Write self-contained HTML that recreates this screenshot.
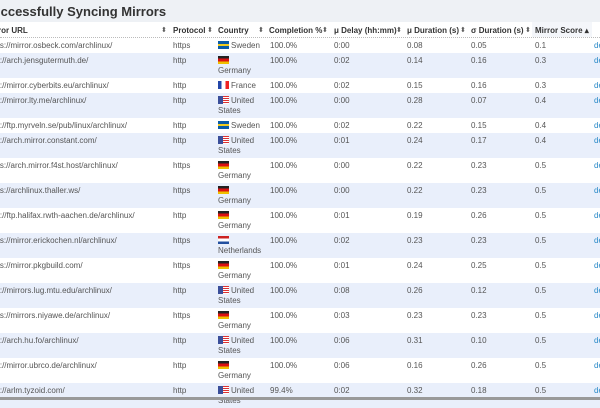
<!DOCTYPE html>
<html><head><meta charset="utf-8"><style>
body{margin:0;width:600px;height:400px;overflow:hidden;background:#fff;font-family:"Liberation Sans",sans-serif;position:relative;color:#555}
.top{position:absolute;left:0;top:0;width:600px;height:22px;background:#eef1f5}
.title{position:absolute;left:-16px;top:4px;font-size:13px;font-weight:bold;color:#333;white-space:nowrap}
.hdr{position:absolute;left:0;top:22px;width:600px;height:16px;background:#fff;border-bottom:1px dotted #bbb;box-sizing:border-box}
.hdr span{position:absolute;top:4px;font-size:8px;font-weight:bold;color:#333;white-space:nowrap}
.hdr i{position:absolute;top:4px;font-size:7px;font-style:normal;color:#555}
.r{position:absolute;left:0;width:600px;font-size:8px}
.r.b{background:#e9effb}
.r span{position:absolute;top:3px;white-space:nowrap;line-height:10px}
.u{left:-13.5px}.p{left:173px}.c{left:218px}.m{left:270px}.d{left:334px}.du{left:407px}.sd{left:471px}.s{left:535px}.l{left:594px;color:#2a8ac8}
.f{display:inline-block;width:11px;height:8px;vertical-align:-1px;margin-right:2px}
.se{background:linear-gradient(#0a5ca8 0 35%,#f0cc20 35% 65%,#0a5ca8 65%)}
.de{background:linear-gradient(#222 0 33%,#d11 33% 66%,#f0c000 66%)}
.fr{background:linear-gradient(90deg,#2346a8 0 33%,#fff 33% 66%,#e22 66%)}
.us{background:linear-gradient(90deg,#3a4e9a 0 45%,transparent 45%),repeating-linear-gradient(#d33 0 1px,#fff 1px 2px)}
.nl{background:linear-gradient(#c22 0 33%,#fff 33% 66%,#2350a0 66%)}
</style></head><body>
<div class="top"></div><div class="title">Successfully Syncing Mirrors</div>
<div class="hdr">
<span style="left:-14px">Mirror URL</span><i style="left:161px">⬍</i>
<span style="left:173px">Protocol</span><i style="left:207px">⬍</i>
<span style="left:218px">Country</span><i style="left:258px">⬍</i>
<span style="left:269px">Completion %</span><i style="left:322px">⬍</i>
<span style="left:334px">μ Delay (hh:mm)</span><i style="left:396px">⬍</i>
<span style="left:407px">μ Duration (s)</span><i style="left:460px">⬍</i>
<span style="left:471px">σ Duration (s)</span><i style="left:525px">⬍</i>
<div style="position:absolute;left:532px;top:0;width:60px;height:15px;background:#f4f6fa"></div>
<span style="left:535px">Mirror Score ▴</span>
</div>

<div class="r" style="top:38px;height:15px"><span class="u">https://mirror.osbeck.com/archlinux/</span><span class="p">https</span><span class="c"><i class="f se"></i>Sweden</span><span class="m">100.0%</span><span class="d">0:00</span><span class="du">0.08</span><span class="sd">0.05</span><span class="s">0.1</span><span class="l">details</span></div>
<div class="r b" style="top:53px;height:25px"><span class="u">http://arch.jensgutermuth.de/</span><span class="p">http</span><span class="c"><i class="f de"></i><br>Germany</span><span class="m">100.0%</span><span class="d">0:02</span><span class="du">0.14</span><span class="sd">0.16</span><span class="s">0.3</span><span class="l">details</span></div>
<div class="r" style="top:78px;height:15px"><span class="u">http://mirror.cyberbits.eu/archlinux/</span><span class="p">http</span><span class="c"><i class="f fr"></i>France</span><span class="m">100.0%</span><span class="d">0:02</span><span class="du">0.15</span><span class="sd">0.16</span><span class="s">0.3</span><span class="l">details</span></div>
<div class="r b" style="top:93px;height:25px"><span class="u">http://mirror.lty.me/archlinux/</span><span class="p">http</span><span class="c"><i class="f us"></i>United<br>States</span><span class="m">100.0%</span><span class="d">0:00</span><span class="du">0.28</span><span class="sd">0.07</span><span class="s">0.4</span><span class="l">details</span></div>
<div class="r" style="top:118px;height:15px"><span class="u">http://ftp.myrveln.se/pub/linux/archlinux/</span><span class="p">http</span><span class="c"><i class="f se"></i>Sweden</span><span class="m">100.0%</span><span class="d">0:02</span><span class="du">0.22</span><span class="sd">0.15</span><span class="s">0.4</span><span class="l">details</span></div>
<div class="r b" style="top:133px;height:25px"><span class="u">http://arch.mirror.constant.com/</span><span class="p">http</span><span class="c"><i class="f us"></i>United<br>States</span><span class="m">100.0%</span><span class="d">0:01</span><span class="du">0.24</span><span class="sd">0.17</span><span class="s">0.4</span><span class="l">details</span></div>
<div class="r" style="top:158px;height:25px"><span class="u">https://arch.mirror.f4st.host/archlinux/</span><span class="p">https</span><span class="c"><i class="f de"></i><br>Germany</span><span class="m">100.0%</span><span class="d">0:00</span><span class="du">0.22</span><span class="sd">0.23</span><span class="s">0.5</span><span class="l">details</span></div>
<div class="r b" style="top:183px;height:25px"><span class="u">https://archlinux.thaller.ws/</span><span class="p">https</span><span class="c"><i class="f de"></i><br>Germany</span><span class="m">100.0%</span><span class="d">0:00</span><span class="du">0.22</span><span class="sd">0.23</span><span class="s">0.5</span><span class="l">details</span></div>
<div class="r" style="top:208px;height:25px"><span class="u">http://ftp.halifax.rwth-aachen.de/archlinux/</span><span class="p">http</span><span class="c"><i class="f de"></i><br>Germany</span><span class="m">100.0%</span><span class="d">0:01</span><span class="du">0.19</span><span class="sd">0.26</span><span class="s">0.5</span><span class="l">details</span></div>
<div class="r b" style="top:233px;height:25px"><span class="u">https://mirror.erickochen.nl/archlinux/</span><span class="p">https</span><span class="c"><i class="f nl"></i><br>Netherlands</span><span class="m">100.0%</span><span class="d">0:02</span><span class="du">0.23</span><span class="sd">0.23</span><span class="s">0.5</span><span class="l">details</span></div>
<div class="r" style="top:258px;height:25px"><span class="u">https://mirror.pkgbuild.com/</span><span class="p">https</span><span class="c"><i class="f de"></i><br>Germany</span><span class="m">100.0%</span><span class="d">0:01</span><span class="du">0.24</span><span class="sd">0.25</span><span class="s">0.5</span><span class="l">details</span></div>
<div class="r b" style="top:283px;height:25px"><span class="u">http://mirrors.lug.mtu.edu/archlinux/</span><span class="p">http</span><span class="c"><i class="f us"></i>United<br>States</span><span class="m">100.0%</span><span class="d">0:08</span><span class="du">0.26</span><span class="sd">0.12</span><span class="s">0.5</span><span class="l">details</span></div>
<div class="r" style="top:308px;height:25px"><span class="u">https://mirrors.niyawe.de/archlinux/</span><span class="p">https</span><span class="c"><i class="f de"></i><br>Germany</span><span class="m">100.0%</span><span class="d">0:03</span><span class="du">0.23</span><span class="sd">0.23</span><span class="s">0.5</span><span class="l">details</span></div>
<div class="r b" style="top:333px;height:25px"><span class="u">http://arch.hu.fo/archlinux/</span><span class="p">http</span><span class="c"><i class="f us"></i>United<br>States</span><span class="m">100.0%</span><span class="d">0:06</span><span class="du">0.31</span><span class="sd">0.10</span><span class="s">0.5</span><span class="l">details</span></div>
<div class="r" style="top:358px;height:25px"><span class="u">http://mirror.ubrco.de/archlinux/</span><span class="p">http</span><span class="c"><i class="f de"></i><br>Germany</span><span class="m">100.0%</span><span class="d">0:06</span><span class="du">0.16</span><span class="sd">0.26</span><span class="s">0.5</span><span class="l">details</span></div>
<div class="r b" style="top:383px;height:25px"><span class="u">http://arlm.tyzoid.com/</span><span class="p">http</span><span class="c"><i class="f us"></i>United<br>States</span><span class="m">99.4%</span><span class="d">0:02</span><span class="du">0.32</span><span class="sd">0.18</span><span class="s">0.5</span><span class="l">details</span></div>
<div style="position:absolute;left:0;top:397px;width:600px;height:3px;background:#999"></div>
</body></html>
